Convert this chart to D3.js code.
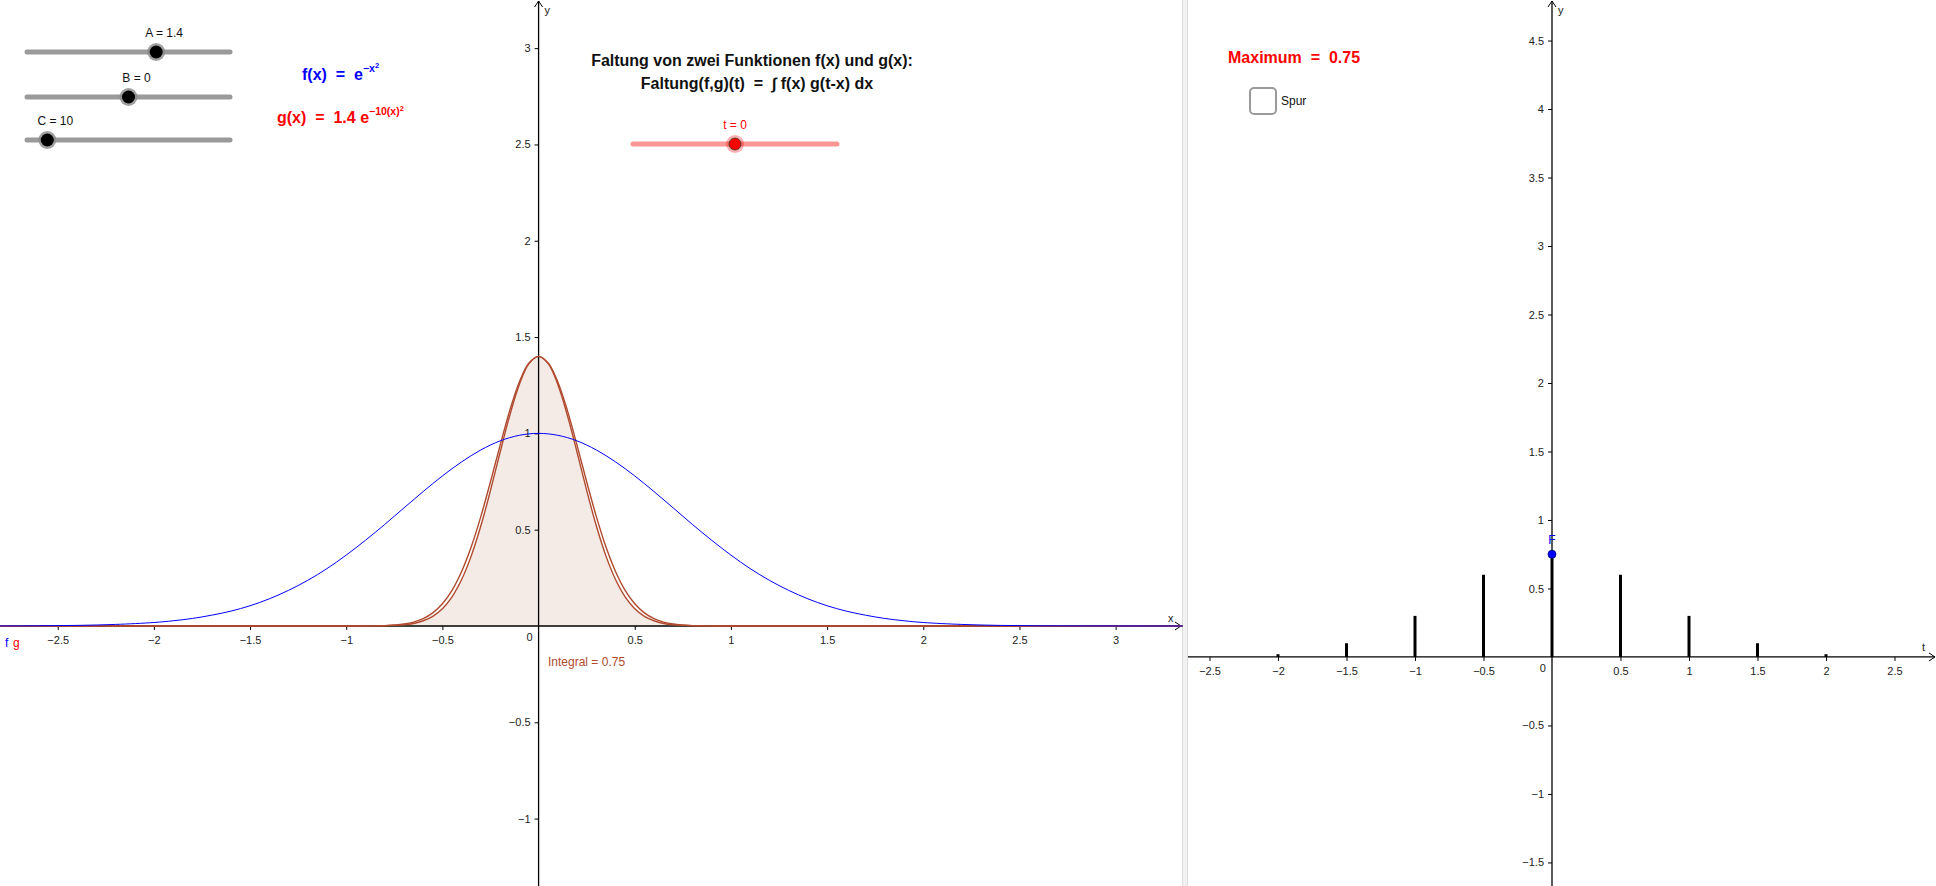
<!DOCTYPE html>
<html>
<head>
<meta charset="utf-8">
<script src="https://cdn.jsdelivr.net/npm/d3@7"></script>
<style>
  body { margin: 0; background: #fff; }
  svg { display: block; font-family: "Liberation Sans", Arial, sans-serif; }
</style>
</head>
<body>
<script>
// Dimensions of the page and of the two graphics views.
var width = 1936;
var height = 886;
var leftW = 1182;
var rightX0 = 1188;

// f(x) = e^(-x^2).
var fX = [-2.8,-2.6,-2.4,-2.2,-2.0,-1.9,-1.8,-1.7,-1.6,-1.5,-1.4,-1.3,-1.2,-1.1,-1.0,-0.9,-0.8,-0.7,-0.6,-0.5,-0.4,-0.3,-0.2,-0.1,0,
          0.1,0.2,0.3,0.4,0.5,0.6,0.7,0.8,0.9,1.0,1.1,1.2,1.3,1.4,1.5,1.6,1.7,1.8,1.9,2.0,2.2,2.4,2.6,2.8,3.0,3.35];
var fY = [0.0004,0.001,0.003,0.008,0.018,0.027,0.039,0.056,0.077,0.105,0.141,0.185,0.237,0.298,0.368,0.445,0.527,0.613,0.698,0.779,0.852,0.914,0.961,0.990,1,
          0.990,0.961,0.914,0.852,0.779,0.698,0.613,0.527,0.445,0.368,0.298,0.237,0.185,0.141,0.105,0.077,0.056,0.039,0.027,0.018,0.008,0.003,0.001,0.0004,0.0001,0];

// g(t-x) at t = 0 and the product f(x)*g(t-x), brown curves.
var gX = [-2.8,-1.0,-0.9,-0.8,-0.75,-0.7,-0.65,-0.6,-0.55,-0.5,-0.45,-0.4,-0.35,-0.3,-0.25,-0.2,-0.15,-0.1,-0.05,0,
          0.05,0.1,0.15,0.2,0.25,0.3,0.35,0.4,0.45,0.5,0.55,0.6,0.65,0.7,0.75,0.8,0.9,1.0,3.35];
var gY = [0,0,0.0004,0.002,0.005,0.010,0.020,0.038,0.068,0.115,0.185,0.283,0.411,0.569,0.749,0.938,1.118,1.267,1.365,1.4,
          1.365,1.267,1.118,0.938,0.749,0.569,0.411,0.283,0.185,0.115,0.068,0.038,0.020,0.010,0.005,0.002,0.0004,0,0];
var pY = [0,0,0.0002,0.001,0.003,0.006,0.013,0.027,0.050,0.089,0.151,0.241,0.364,0.520,0.704,0.902,1.093,1.254,1.362,1.4,
          1.362,1.254,1.093,0.902,0.704,0.520,0.364,0.241,0.151,0.089,0.050,0.027,0.013,0.006,0.003,0.001,0.0002,0,0];

// Convolution values (trace of F) in the right view.
var barT = [-2,-1.5,-1,-0.5,0,0.5,1,1.5,2];
var barVal = [0.02,0.10,0.30,0.60,0.75,0.60,0.30,0.10,0.02];

// Tick values.
var leftXTicks = [-2.5,-2,-1.5,-1,-0.5,0.5,1,1.5,2,2.5,3];
var leftYTicks = [-1,-0.5,0.5,1,1.5,2,2.5,3];
var rightXTicks = [-2.5,-2,-1.5,-1,-0.5,0.5,1,1.5,2,2.5];
var rightYTicks = [-1.5,-1,-0.5,0.5,1,1.5,2,2.5,3,3.5,4,4.5];

// Sliders: name, value, range, vertical position.
var sliderNames = ["A", "B", "C"];
var sliderValues = [1.4, 0, 10];
var sliderMin = [0, -5, 0];
var sliderMax = [2.2, 5, 100];
var sliderY = [52, 97, 140];
var tValue = 0;

var brown = "#b04a2e";

var svg = d3.select("body").append("svg")
    .attr("width", width)
    .attr("height", height);

// Scales (same unit length on both axes in each view).
var xL = d3.scaleLinear().domain([-2.8, 3.345]).range([0, leftW]);
var yL = d3.scaleLinear().domain([3.25, -1.35]).range([0, height]);
var xR = d3.scaleLinear().domain([-2.657, 2.803]).range([rightX0, width]);
var yR = d3.scaleLinear().domain([4.796, -1.672]).range([0, height]);

var fmt = d3.format("");

// Divider between the two views.
svg.append("rect")
    .attr("x", leftW).attr("y", 0).attr("width", rightX0 - leftW).attr("height", height)
    .style("fill", "#f2f2f2");
svg.append("line").attr("x1", leftW + 0.5).attr("x2", leftW + 0.5).attr("y1", 0).attr("y2", height)
    .style("stroke", "#dcdcdc");
svg.append("line").attr("x1", rightX0 - 0.5).attr("x2", rightX0 - 0.5).attr("y1", 0).attr("y2", height)
    .style("stroke", "#dcdcdc");

// Filled area under the product curve.
var idx = d3.range(gX.length);
svg.append("path")
    .datum(idx)
    .attr("d", d3.area()
      .x(function(i) { return xL(gX[i]); })
      .y0(yL(0))
      .y1(function(i) { return yL(pY[i]); })
      .curve(d3.curveCatmullRom))
    .style("fill", "#f4ebe6");

// Draw an axis pair with arrows.
function drawAxes(xs, ys, xTicks, yTicks, x0, x1, xName, xNameY) {
  var ax = svg.append("g")
      .attr("transform", "translate(0," + ys(0) + ")")
      .call(d3.axisBottom(xs).tickValues(xTicks).tickSizeInner(4).tickSizeOuter(0).tickPadding(6).tickFormat(fmt));
  var ay = svg.append("g")
      .attr("transform", "translate(" + xs(0) + ",0)")
      .call(d3.axisLeft(ys).tickValues(yTicks).tickSizeInner(4).tickSizeOuter(0).tickPadding(4).tickFormat(fmt));
  [ax, ay].forEach(function(a) {
    a.select(".domain").remove();
    a.selectAll("text").style("font-size", "11px").style("fill", "#222")
      .style("font-family", "'Liberation Sans', Arial, sans-serif");
  });
  // axis lines
  svg.append("line").attr("x1", x0).attr("x2", x1 - 1).attr("y1", ys(0)).attr("y2", ys(0))
      .style("stroke", "#000").style("stroke-width", 1.3);
  svg.append("line").attr("x1", xs(0)).attr("x2", xs(0)).attr("y1", height).attr("y2", 1)
      .style("stroke", "#000").style("stroke-width", 1.3);
  // arrow heads
  svg.append("path")
      .attr("d", "M" + (x1 - 7) + "," + (ys(0) - 4) + "L" + (x1 - 1) + "," + ys(0) + "L" + (x1 - 7) + "," + (ys(0) + 4))
      .style("fill", "none").style("stroke", "#000");
  svg.append("path")
      .attr("d", "M" + (xs(0) - 4) + ",7L" + xs(0) + ",1L" + (xs(0) + 4) + ",7")
      .style("fill", "none").style("stroke", "#000");
  // origin label and axis names
  svg.append("text").attr("x", xs(0) - 6).attr("y", ys(0) + 15).attr("text-anchor", "end")
      .style("font-size", "11px").style("fill", "#222").text("0");
  svg.append("text").attr("x", xs(0) + 6).attr("y", 14)
      .style("font-size", "11px").style("fill", "#222").text("y");
  svg.append("text").attr("x", x1 - 14).attr("y", xNameY)
      .style("font-size", "11px").style("fill", "#222").text(xName);
}

drawAxes(xL, yL, leftXTicks, leftYTicks, 0, leftW, "x", 622);
drawAxes(xR, yR, rightXTicks, rightYTicks, rightX0, width, "t", 651);

// Brown curves: g(t-x) and f(x) g(t-x).
[gY, pY].forEach(function(vals) {
  svg.append("path")
      .datum(idx)
      .attr("d", d3.line()
        .x(function(i) { return xL(gX[i]); })
        .y(function(i) { return yL(vals[i]); })
        .curve(d3.curveCatmullRom))
      .style("fill", "none")
      .style("stroke", brown)
      .style("stroke-width", 1.4);
});

// Blue curve f(x).
svg.append("path")
    .datum(d3.range(fX.length))
    .attr("d", d3.line()
      .x(function(i) { return xL(fX[i]); })
      .y(function(i) { return yL(fY[i]); })
      .curve(d3.curveCatmullRom))
    .style("fill", "none")
    .style("stroke", "#0000ff")
    .style("stroke-width", 1);

// Labels in the left view.
svg.append("text").attr("x", 5).attr("y", 647).style("font-size", "12px").style("fill", "#0000ff").text("f");
svg.append("text").attr("x", 13).attr("y", 647).style("font-size", "12px").style("fill", "#ff0000").text("g");
svg.append("text").attr("x", 548).attr("y", 666).style("font-size", "12px").style("fill", brown).text("Integral = 0.75");

// Title.
svg.append("text").attr("x", 752).attr("y", 66).attr("text-anchor", "middle")
    .style("font-size", "16px").style("font-weight", "bold").style("fill", "#111")
    .text("Faltung von zwei Funktionen f(x) und g(x):");
svg.append("text").attr("x", 757).attr("y", 89).attr("text-anchor", "middle")
    .style("font-size", "16px").style("font-weight", "bold").style("fill", "#111")
    .attr("xml:space", "preserve")
    .text("Faltung(f,g)(t)  =  \u222B f(x) g(t-x) dx");

// Formulas for f and g.
var ft = svg.append("text").attr("x", 302).attr("y", 80)
    .style("font-size", "16px").style("font-weight", "bold").style("fill", "#0000ff")
    .attr("xml:space", "preserve");
ft.append("tspan").text("f(x)  =  e");
ft.append("tspan").attr("dy", -8).style("font-size", "10.5px").text("\u2212x");
ft.append("tspan").attr("dy", -4).style("font-size", "7.5px").text("2");

var gt = svg.append("text").attr("x", 277).attr("y", 123)
    .style("font-size", "16px").style("font-weight", "bold").style("fill", "#ff0000")
    .attr("xml:space", "preserve");
gt.append("tspan").text("g(x)  =  1.4 e");
gt.append("tspan").attr("dy", -8).style("font-size", "10.5px").text("\u221210(x)");
gt.append("tspan").attr("dy", -4).style("font-size", "7.5px").text("2");

// Gray sliders A, B, C.
sliderNames.forEach(function(name, i) {
  var s = d3.scaleLinear().domain([sliderMin[i], sliderMax[i]]).range([27, 230]);
  var cx = s(sliderValues[i]);
  svg.append("line").attr("x1", 27).attr("x2", 230).attr("y1", sliderY[i]).attr("y2", sliderY[i])
      .style("stroke", "#9a9a9a").style("stroke-width", 5).style("stroke-linecap", "round");
  svg.append("circle").attr("cx", cx).attr("cy", sliderY[i]).attr("r", 9).style("fill", "#8a8a8a").style("opacity", 0.8);
  svg.append("circle").attr("cx", cx).attr("cy", sliderY[i]).attr("r", 6.5).style("fill", "#000");
  svg.append("text").attr("x", cx + 8).attr("y", sliderY[i] - 15).attr("text-anchor", "middle")
      .style("font-size", "12px").style("fill", "#111")
      .text(name + " = " + sliderValues[i]);
});

// Red slider t.
var ts = d3.scaleLinear().domain([-5, 5]).range([633, 837]);
svg.append("line").attr("x1", 633).attr("x2", 837).attr("y1", 144).attr("y2", 144)
    .style("stroke", "#ff9696").style("stroke-width", 5).style("stroke-linecap", "round");
svg.append("circle").attr("cx", ts(tValue)).attr("cy", 144).attr("r", 9).style("fill", "#ff0000").style("opacity", 0.3);
svg.append("circle").attr("cx", ts(tValue)).attr("cy", 144).attr("r", 6).style("fill", "#ff0000")
    .style("stroke", "#333").style("stroke-width", 0.8);
svg.append("text").attr("x", ts(tValue)).attr("y", 129).attr("text-anchor", "middle")
    .style("font-size", "12px").style("fill", "#ff0000").text("t = " + tValue);

// Right view: Maximum text and the Spur checkbox.
svg.append("text").attr("x", 1228).attr("y", 63).attr("xml:space", "preserve")
    .style("font-size", "16px").style("font-weight", "bold").style("fill", "#ff0000")
    .text("Maximum  =  " + d3.max(barVal));
svg.append("rect").attr("x", 1250).attr("y", 88).attr("width", 26).attr("height", 26).attr("rx", 4)
    .style("fill", "#fff").style("stroke", "#9a9a9a").style("stroke-width", 2);
svg.append("text").attr("x", 1281).attr("y", 105).style("font-size", "12px").style("fill", "#111").text("Spur");

// Convolution bars.
svg.selectAll(".bar")
    .data(barT)
  .enter().append("line")
    .attr("class", "bar")
    .attr("x1", function(d) { return xR(d); })
    .attr("x2", function(d) { return xR(d); })
    .attr("y1", yR(0))
    .attr("y2", function(d, i) { return yR(barVal[i]); })
    .style("stroke", "#000")
    .style("stroke-width", 3);

// Point F.
svg.append("circle").attr("cx", xR(0)).attr("cy", yR(0.75)).attr("r", 4)
    .style("fill", "#0000ff").style("stroke", "#00007a").style("stroke-width", 0.8);
svg.append("text").attr("x", xR(0)).attr("y", yR(0.75) - 10).attr("text-anchor", "middle")
    .style("font-size", "12px").style("fill", "#0000ff").text("F");
</script>
</body>
</html>
